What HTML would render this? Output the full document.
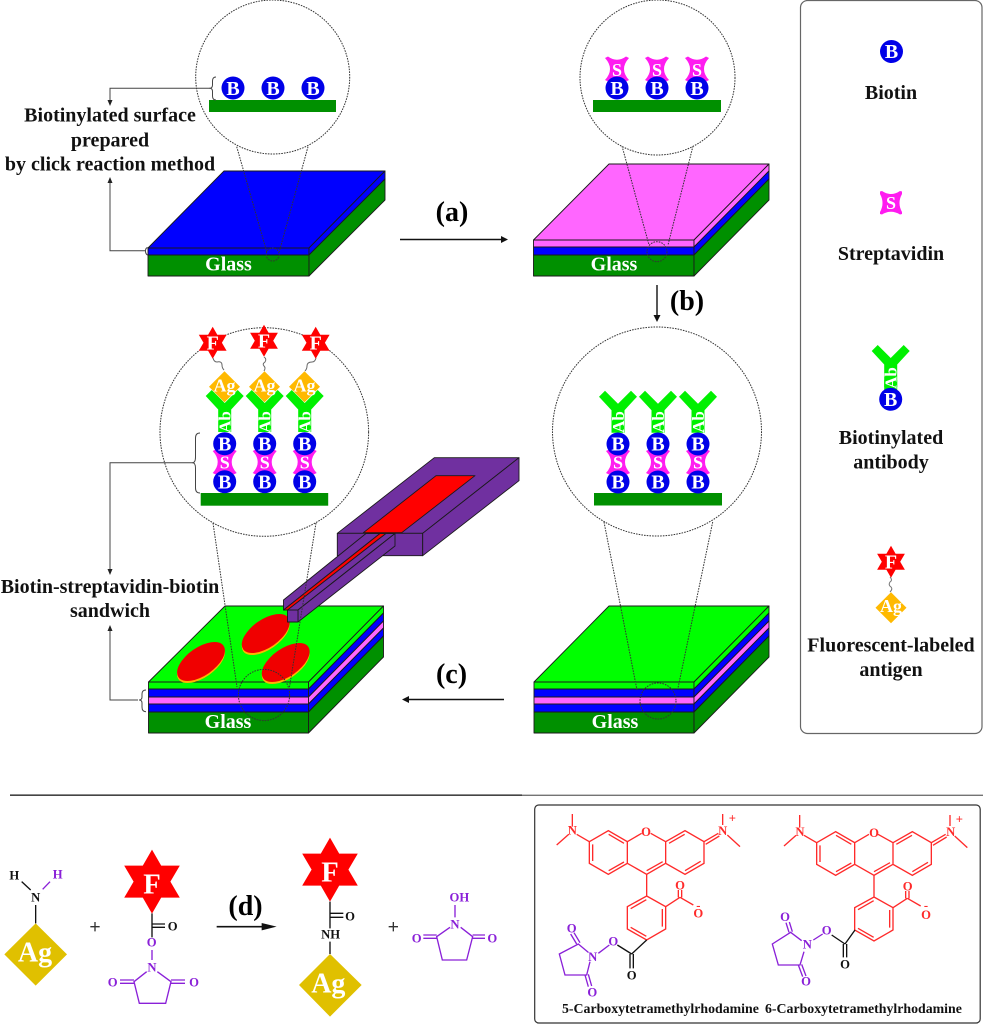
<!DOCTYPE html>
<html>
<head>
<meta charset="utf-8">
<style>
html,body{margin:0;padding:0;background:#fff;width:983px;height:1024px;overflow:hidden}
svg{display:block}
text{font-family:"Liberation Serif",serif;font-weight:bold}
.l{font-size:20px;fill:#111;text-anchor:middle}
.w{fill:#fff;text-anchor:middle}
.b{font-size:20px}
.s{font-size:18px}
.ab{font-size:17px}
.ag{font-size:18px}
.f{font-size:20px}
.p{font-size:28px;fill:#000;text-anchor:middle}
.d{fill:none;stroke:#333;stroke-width:1;stroke-dasharray:1.6 1.1}
.c{fill:#fff;stroke:#333;stroke-width:1;stroke-dasharray:1.6 1.1}
.e{stroke:#1a1a1a;stroke-width:.9;stroke-linejoin:round}
.cn{fill:none;stroke:#444;stroke-width:1}
.chem{font-size:38px;text-anchor:middle}
</style>
</head>
<body>
<svg width="983" height="1024" viewBox="0 0 983 1024" xmlns="http://www.w3.org/2000/svg">
<defs>
<circle id="bio" r="11.5" fill="#0000e8"/>
<path id="st" d="M-12,-11 L-9,-12.5 Q0,-6 9,-12.5 L12,-11 Q2,0 12,11 L9,12.5 Q0,6 -9,12.5 L-12,11 Q-2,0 -12,-11Z" fill="#ff1cf0"/>
<path id="star" d="M0,-16 L4.6,-8 L13.9,-8 L9.2,0 L13.9,8 L4.6,8 L0,16 L-4.6,8 L-13.9,8 L-9.2,0 L-13.9,-8 L-4.6,-8Z" fill="#f00"/>
<path id="dia" d="M0,-15.5 L15.5,0 L0,15.5 L-15.5,0Z" fill="#ffb900"/>
<path id="y" d="M-19,6 L-13,0 L0,13 L13,0 L19,6 L6.5,19.5 L6.5,42 L-6.5,42 L-6.5,19.5Z" fill="#00f000"/>
<path id="rl" d="M127,42V80M80,135L116,103M140,103L178,125M178,125L235,92L292,125L292,190L235,223L178,190ZM188,133V183M236,103L282,130M282,186L236,212M292,125L335,100M362,100L407,125M407,125L465,92L522,125L522,190L465,223L407,190ZM417,130L464,103M512,184L465,212M292,190L350,223L407,190M350,212L398,185M522,125L565,100M527,133L568,108M578,42V75M592,105L630,140M350,223V288M350,288L407,320V387L350,420L292,387V320ZM349,299L302,326M397,327V380M349,409L302,382M407,320L450,292M445,292V270M455,292V270M450,292L490,315"/>
</defs>

<!-- Legend -->
<rect x="800.5" y="0.5" width="181.5" height="733" rx="7" fill="#fff" stroke="#666" stroke-width="1.2"/>
<use href="#bio" x="891.5" y="51.5"/>
<text class="w b" x="891.5" y="58">B</text>
<text class="l" x="891" y="99">Biotin</text>
<path d="M880,191.5 L882,191 Q891,197 900,191 L902,191.5 L902,194 Q897,203 902,212 L902,214 L900,214.5 Q891,209 882,214.5 L880,214 L880,212 Q885,203 880,194Z" fill="#ff1cf0"/>
<text class="w s" x="891" y="209">S</text>
<text class="l" x="891" y="260">Streptavidin</text>
<use href="#y" x="890.7" y="345"/><rect x="884.2" y="380" width="13" height="15" fill="#00f000"/>
<text class="w ab" transform="translate(896.5,378) rotate(-90)" text-anchor="middle">Ab</text>
<use href="#bio" x="890.7" y="399.3"/>
<text class="w b" x="890.7" y="406">B</text>
<text class="l" x="891" y="444">Biotinylated</text>
<text class="l" x="891" y="468.3">antibody</text>
<use href="#star" x="891" y="561.7"/>
<text class="w f" x="891" y="568.5">F</text>
<path d="M890,577 q3,3 0,5 q-2,3 1,5 q2,2 -1,5" fill="none" stroke="#777" stroke-width="1"/>
<use href="#dia" x="891" y="607.7"/>
<text class="w ag" x="891" y="612">Ag</text>
<text class="l" x="891" y="651.7">Fluorescent-labeled</text>
<text class="l" x="891" y="676">antigen</text>

<!-- Panel 1 slab -->
<g class="e">
<polygon points="148,248 224,171 385,171 309,248" fill="#00f"/>
<polygon points="148,248 309,248 309,255 148,255" fill="#00f"/>
<polygon points="309,248 385,171 385,179 309,255" fill="#00f"/>
<polygon points="148,255 309,255 309,276 148,276" fill="#009000"/>
<polygon points="309,255 385,179 385,200 309,276" fill="#009000"/>
</g>
<text class="l" style="fill:#fff" x="228.5" y="270.5">Glass</text>
<path class="d" d="M236.7,146.7 L266.7,251.7 M308,146.7 L279.3,251.7"/>
<circle class="d" cx="272.7" cy="254.5" r="6.5"/>
<circle class="c" cx="272.7" cy="77" r="77"/>
<rect x="209" y="100" width="127" height="12" fill="#009000"/>
<use href="#bio" x="233" y="88"/><use href="#bio" x="273" y="88"/><use href="#bio" x="313" y="88"/>
<text class="w b" x="233" y="95">B</text><text class="w b" x="273" y="95">B</text><text class="w b" x="313" y="95">B</text>
<path class="cn" d="M216,77 Q212.5,77 212.5,81 L212.5,85 Q212.5,88.3 209.5,88.3 Q212.5,88.3 212.5,91.5 L212.5,96 Q212.5,100 216,100"/>
<path class="cn" d="M210,88.3 H110 V101"/><path d="M107.5,100 L112.5,100 L110,106Z" fill="#222"/>
<path class="cn" d="M146,250.7 H110 V182"/><path d="M107.5,183 L112.5,183 L110,177Z" fill="#222"/>
<path class="cn" d="M147.5,247.5 Q145.5,248 145.5,251 Q145.5,254 147.5,255"/>
<text class="l" x="110" y="121.7">Biotinylated surface</text>
<text class="l" x="110" y="146.5">prepared</text>
<text class="l" x="110" y="170.5">by click reaction method</text>

<!-- (a) -->
<text class="p" x="452" y="221">(a)</text>
<path d="M400,239.5 H502" stroke="#111" stroke-width="1.4"/><path d="M501,236 L508,239.5 L501,243Z" fill="#111"/>

<!-- Panel 2 -->
<g class="e">
<polygon points="533.5,240 609,164 769,164 694,240" fill="#ff66ff"/>
<polygon points="533.5,240 694,240 694,247 533.5,247" fill="#ff66ff"/>
<polygon points="694,240 769,164 769,171 694,247" fill="#ff66ff"/>
<polygon points="533.5,247 694,247 694,255 533.5,255" fill="#00f"/>
<polygon points="694,247 769,171 769,179 694,255" fill="#00f"/>
<polygon points="533.5,255 694,255 694,276 533.5,276" fill="#009000"/>
<polygon points="694,255 769,179 769,200 694,276" fill="#009000"/>
</g>
<text class="l" style="fill:#fff" x="614" y="270.7">Glass</text>
<path class="d" d="M622,146 L649,245 M693,146 L668,245"/>
<circle class="d" cx="657" cy="251.7" r="10"/>
<circle class="c" cx="657.5" cy="77.5" r="77.5"/>
<rect x="593" y="100" width="128" height="12" fill="#009000"/>
<use href="#st" x="617" y="69"/><use href="#st" x="657" y="69"/><use href="#st" x="697" y="69"/>
<use href="#bio" x="617" y="88"/><use href="#bio" x="657" y="88"/><use href="#bio" x="697" y="88"/>
<text class="w s" x="617" y="76">S</text><text class="w s" x="657" y="76">S</text><text class="w s" x="697" y="76">S</text>
<text class="w b" x="617" y="95">B</text><text class="w b" x="657" y="95">B</text><text class="w b" x="697" y="95">B</text>

<!-- (b) -->
<path d="M657,285 V316" stroke="#111" stroke-width="1.4"/><path d="M653.5,315 L660.5,315 L657,322Z" fill="#111"/>
<text class="p" x="687" y="310">(b)</text>

<!-- Panel 3 (right) -->
<g class="e">
<polygon points="534,682 609,606 769,606 694,682" fill="#0f0"/>
<polygon points="534,682 694,682 694,689 534,689" fill="#0f0"/>
<polygon points="694,682 769,606 769,613 694,689" fill="#0f0"/>
<polygon points="534,689 694,689 694,697 534,697" fill="#00f"/>
<polygon points="694,689 769,613 769,621 694,697" fill="#00f"/>
<polygon points="534,697 694,697 694,704 534,704" fill="#ff66ff"/>
<polygon points="694,697 769,621 769,628 694,704" fill="#ff66ff"/>
<polygon points="534,704 694,704 694,712 534,712" fill="#00f"/>
<polygon points="694,704 769,628 769,636 694,712" fill="#00f"/>
<polygon points="534,712 694,712 694,733 534,733" fill="#009000"/>
<polygon points="694,712 769,636 769,657 694,733" fill="#009000"/>
</g>
<text class="l" style="fill:#fff" x="615" y="728">Glass</text>
<path class="d" d="M604,522 L637,690 M712.7,522 L678,688"/>
<circle class="d" cx="658" cy="701" r="18"/>
<circle class="c" cx="657" cy="431.5" r="104.5"/>
<rect x="594" y="493" width="128" height="12.5" fill="#009000"/>
<use href="#y" x="618" y="390.7"/><use href="#y" x="658" y="390.7"/><use href="#y" x="698" y="390.7"/>
<text class="w ab" transform="translate(624,422) rotate(-90)" text-anchor="middle">Ab</text>
<text class="w ab" transform="translate(664,422) rotate(-90)" text-anchor="middle">Ab</text>
<text class="w ab" transform="translate(704,422) rotate(-90)" text-anchor="middle">Ab</text>
<use href="#st" x="618" y="462"/><use href="#st" x="658" y="462"/><use href="#st" x="698" y="462"/>
<use href="#bio" x="618" y="444"/><use href="#bio" x="658" y="444"/><use href="#bio" x="698" y="444"/>
<use href="#bio" x="618" y="482"/><use href="#bio" x="658" y="482"/><use href="#bio" x="698" y="482"/>
<text class="w s" x="618" y="468.5">S</text><text class="w s" x="658" y="468.5">S</text><text class="w s" x="698" y="468.5">S</text>
<text class="w b" x="618" y="450.5">B</text><text class="w b" x="658" y="450.5">B</text><text class="w b" x="698" y="450.5">B</text>
<text class="w b" x="618" y="488.5">B</text><text class="w b" x="658" y="488.5">B</text><text class="w b" x="698" y="488.5">B</text>

<!-- (c) -->
<text class="p" x="451.5" y="683">(c)</text>
<path d="M504,699.5 H408" stroke="#111" stroke-width="1.4"/><path d="M409,696 L402,699.5 L409,703Z" fill="#111"/>

<!-- Panel 4 (left) -->
<g class="e">
<polygon points="148.5,682 225,606 383.5,606 308.5,682" fill="#0f0"/>
<polygon points="148.5,682 308.5,682 308.5,689 148.5,689" fill="#0f0"/>
<polygon points="308.5,682 383.5,606 383.5,613 308.5,689" fill="#0f0"/>
<polygon points="148.5,689 308.5,689 308.5,697 148.5,697" fill="#00f"/>
<polygon points="308.5,689 383.5,613 383.5,621 308.5,697" fill="#00f"/>
<polygon points="148.5,697 308.5,697 308.5,704 148.5,704" fill="#ff66ff"/>
<polygon points="308.5,697 383.5,621 383.5,628 308.5,704" fill="#ff66ff"/>
<polygon points="148.5,704 308.5,704 308.5,712 148.5,712" fill="#00f"/>
<polygon points="308.5,704 383.5,628 383.5,636 308.5,712" fill="#00f"/>
<polygon points="148.5,712 308.5,712 308.5,733 148.5,733" fill="#009000"/>
<polygon points="308.5,712 383.5,636 383.5,657 308.5,733" fill="#009000"/>
</g>
<text class="l" style="fill:#fff" x="228" y="728">Glass</text>
<ellipse cx="201" cy="663.5" rx="27.5" ry="14" transform="rotate(-35 201 663.5)" fill="#ffb400"/>
<ellipse cx="201" cy="661.5" rx="27.5" ry="14" transform="rotate(-35 201 661.5)" fill="#f00000"/>
<ellipse cx="265.7" cy="635.5" rx="27.5" ry="14" transform="rotate(-35 265.7 635.5)" fill="#ffb400"/>
<ellipse cx="265.7" cy="633.5" rx="27.5" ry="14" transform="rotate(-35 265.7 633.5)" fill="#f00000"/>
<ellipse cx="285.7" cy="664.5" rx="27.5" ry="14" transform="rotate(-35 285.7 664.5)" fill="#ffb400"/>
<ellipse cx="285.7" cy="662.5" rx="27.5" ry="14" transform="rotate(-35 285.7 662.5)" fill="#f00000"/>

<!-- Probe -->
<g class="e">
<polygon points="337.3,533.3 434.3,457.7 519,457.7 422.7,533.3" fill="#7030a0"/>
<polygon points="363.3,532.7 436,475.7 475,475.7 401.7,532.7" fill="#f00"/>
<polygon points="337.3,533.3 422.7,533.3 422.7,555.7 337.3,555.7" fill="#7030a0"/>
<polygon points="422.7,533.3 519,457.7 519,480.7 422.7,555.7" fill="#7030a0"/>
<polygon points="283.5,600 366,533.5 380,533.5 283.5,610" fill="#7030a0"/>
<polygon points="283.5,610 380,533.5 386,533.5 288,610" fill="#f00"/>
<polygon points="287.5,610 386,533.5 395,533.5 298,610" fill="#7030a0"/>
<polygon points="298,610 395,533.5 395,546 298,622" fill="#7030a0"/>
<polygon points="287.5,610 298,610 298,622 287.5,622" fill="#7030a0"/>
</g>
<path class="d" d="M213,523 L237,687 M316,523 L289,690"/>
<circle class="d" cx="264" cy="695" r="25.6"/>
<circle class="c" cx="264.3" cy="432" r="104.3"/>
<rect x="200.7" y="493" width="127.5" height="12.7" fill="#009000"/>
<use href="#y" x="224.7" y="390"/><use href="#y" x="264.7" y="390"/><use href="#y" x="304.7" y="390"/>
<text class="w ab" transform="translate(230.7,422) rotate(-90)" text-anchor="middle">Ab</text>
<text class="w ab" transform="translate(270.7,422) rotate(-90)" text-anchor="middle">Ab</text>
<text class="w ab" transform="translate(310.7,422) rotate(-90)" text-anchor="middle">Ab</text>
<use href="#dia" x="224.5" y="386.7"/><use href="#dia" x="264.5" y="386.7"/><use href="#dia" x="304.5" y="386.7"/>
<text class="w ag" x="224.5" y="391.5">Ag</text><text class="w ag" x="264.5" y="391.5">Ag</text><text class="w ag" x="304.5" y="391.5">Ag</text>
<path d="M213,358 q1,4 4,4 q5,-1 5,3 q0,3 2,5" fill="none" stroke="#666" stroke-width="1"/>
<path d="M264,357 q3,2 1,5 q-3,2 -1,4 q2,2 0,5" fill="none" stroke="#666" stroke-width="1"/>
<path d="M316,358 q-1,4 -4,4 q-5,0 -5,4 q0,3 -2,5" fill="none" stroke="#666" stroke-width="1"/>
<use href="#star" x="212.7" y="342.7"/><use href="#star" x="264" y="340.7"/><use href="#star" x="315.7" y="342.7"/>
<text class="w f" x="212.7" y="349.5">F</text><text class="w f" x="264" y="347.5">F</text><text class="w f" x="315.7" y="349.5">F</text>
<use href="#st" x="224.7" y="462"/><use href="#st" x="264.7" y="462"/><use href="#st" x="304.7" y="462"/>
<use href="#bio" x="224.7" y="443.7"/><use href="#bio" x="264.7" y="443.7"/><use href="#bio" x="304.7" y="443.7"/>
<use href="#bio" x="224.7" y="481.7"/><use href="#bio" x="264.7" y="481.7"/><use href="#bio" x="304.7" y="481.7"/>
<text class="w s" x="224.7" y="468.5">S</text><text class="w s" x="264.7" y="468.5">S</text><text class="w s" x="304.7" y="468.5">S</text>
<text class="w b" x="224.7" y="450.3">B</text><text class="w b" x="264.7" y="450.3">B</text><text class="w b" x="304.7" y="450.3">B</text>
<text class="w b" x="224.7" y="488.3">B</text><text class="w b" x="264.7" y="488.3">B</text><text class="w b" x="304.7" y="488.3">B</text>
<path class="cn" d="M200,433 Q195.5,433 195.5,438 L195.5,457 Q195.5,462.7 192.5,462.7 Q195.5,462.7 195.5,468 L195.5,488 Q195.5,493 200,493"/>
<path class="cn" d="M193,462.7 H110 V570"/><path d="M107.5,569 L112.5,569 L110,575Z" fill="#222"/>
<path class="cn" d="M146,690 Q142,690 142,694 L142,697 Q142,700 139,700 Q142,700 142,703 L142,707 Q142,711.7 146,711.7"/>
<path class="cn" d="M138,700 H110 V630"/><path d="M107.5,631 L112.5,631 L110,625Z" fill="#222"/>
<text class="l" x="110" y="593">Biotin-streptavidin-biotin</text>
<text class="l" x="110" y="617">sandwich</text>

<!-- separator -->
<path d="M10,795.2 H522" stroke="#444" stroke-width="1.6"/>
<path d="M522,795.2 H983" stroke="#222" stroke-width="0.8"/>

<!-- Reaction (d) -->
<g transform="translate(0,830) scale(.33333)">
<g fill="none" stroke-width="4">
<path d="M65,155L92,180M107,225V280" stroke="#111"/>
<path d="M128,178L150,155" stroke="#8a20d8"/>
<path d="M271,290H299M285,276V304" stroke="#333"/>
<path d="M456,250V322M456,282H495M456,292H495" stroke="#111"/>
<path d="M456,360V390M440,425L402,455L418,520H497L513,455L472,425M402,450H360M402,460H360M513,450H555M513,460H555" stroke="#8a20d8"/>
<path d="M990,215V295M990,250H1030M990,262H1030M990,335V372" stroke="#111"/>
<path d="M1166,290H1194M1180,276V304" stroke="#333"/>
<path d="M1365,225V262M1350,292L1310,320L1327,390H1400L1418,320L1382,292M1310,315H1270M1310,325H1270M1418,315H1455M1418,325H1455" stroke="#8a20d8"/>
</g>
<path d="M650,290H795" stroke="#111" stroke-width="5" fill="none"/>
<path d="M785,279L830,290L785,301Z" fill="#111"/>
<path d="M107,280L201,373L107,467L13,373Z" fill="#e0c000"/>
<path d="M990,372L1085,465L990,560L897,465Z" fill="#e0c000"/>
<use href="#star" transform="translate(456,155) scale(6)"/>
<use href="#star" transform="translate(990,119) scale(6)"/>
<text class="chem" fill="#111" x="43" y="148">H</text>
<text class="chem" fill="#8a20d8" x="173" y="146">H</text>
<text class="chem" fill="#111" x="107" y="214">N</text>
<text class="chem" fill="#111" x="518" y="301">O</text>
<text class="chem" fill="#8a20d8" x="455" y="350">O</text>
<text class="chem" fill="#8a20d8" x="456" y="425">N</text>
<text class="chem" fill="#8a20d8" x="338" y="469">O</text>
<text class="chem" fill="#8a20d8" x="582" y="469">O</text>
<text class="chem" fill="#111" x="1050" y="272">O</text>
<text class="chem" fill="#111" x="992" y="325">NH</text>
<text class="chem" fill="#8a20d8" x="1378" y="215">OH</text>
<text class="chem" fill="#8a20d8" x="1365" y="295">N</text>
<text class="chem" fill="#8a20d8" x="1250" y="338">O</text>
<text class="chem" fill="#8a20d8" x="1477" y="338">O</text>
<text fill="#fff" text-anchor="middle" font-size="86" x="456" y="190">F</text>
<text fill="#fff" text-anchor="middle" font-size="86" x="990" y="155">F</text>
<text fill="#fff" text-anchor="middle" font-size="84" x="105" y="395">Ag</text>
<text fill="#fff" text-anchor="middle" font-size="84" x="985" y="487">Ag</text>
</g>
<text class="p" x="245.5" y="915">(d)</text>

<!-- Chem box -->
<rect x="534.7" y="805" width="445.5" height="218" rx="4" fill="none" stroke="#333" stroke-width="1.2"/>

<!-- 5-Carboxy -->
<g transform="translate(530,800) scale(.33333)">
<use href="#rl" fill="none" stroke="#ff2a2a" stroke-width="4"/>
<path d="M350,420L305,462M300,462V505M310,462V505M305,462L262,435" fill="none" stroke="#111" stroke-width="4"/>
<path d="M238,435L205,460M175,457L145,432L88,462L105,525H170L180,485M140,432L122,402M150,428L132,398M165,525L175,560M175,523L185,558" fill="none" stroke="#8a20d8" stroke-width="4"/>
<text class="chem" fill="#ff2a2a" x="127" y="103">N</text>
<text class="chem" fill="#ff2a2a" x="348" y="108">O</text>
<text class="chem" fill="#ff2a2a" x="578" y="105">N</text>
<text class="chem" fill="#ff2a2a" x="607" y="68">+</text>
<text class="chem" fill="#ff2a2a" x="450" y="268">O</text>
<text class="chem" fill="#ff2a2a" x="505" y="352">O</text>
<text class="chem" fill="#ff2a2a" x="505" y="328">-</text>
<text class="chem" fill="#111" x="305" y="538">O</text>
<text class="chem" fill="#8a20d8" x="250" y="436">O</text>
<text class="chem" fill="#8a20d8" x="188" y="483">N</text>
<text class="chem" fill="#8a20d8" x="125" y="398">O</text>
<text class="chem" fill="#8a20d8" x="187" y="590">O</text>
</g>
<text x="562" y="1013" font-size="13.85" fill="#111">5-Carboxytetramethylrhodamine</text>

<!-- 6-Carboxy -->
<g transform="translate(750,800) scale(.33333)">
<use href="#rl" transform="translate(22,3)" fill="none" stroke="#ff2a2a" stroke-width="4"/>
<path d="M315,390L285,432M280,432V472M290,432V472M285,432L245,405" fill="none" stroke="#111" stroke-width="4"/>
<path d="M218,402L190,420M155,422L122,397L67,432L85,495H150L162,455M117,397L108,368M127,395L118,366M145,495L158,530M155,493L168,528" fill="none" stroke="#8a20d8" stroke-width="4"/>
<text class="chem" fill="#ff2a2a" x="150" y="108">N</text>
<text class="chem" fill="#ff2a2a" x="372" y="111">O</text>
<text class="chem" fill="#ff2a2a" x="602" y="108">N</text>
<text class="chem" fill="#ff2a2a" x="628" y="71">+</text>
<text class="chem" fill="#ff2a2a" x="473" y="271">O</text>
<text class="chem" fill="#ff2a2a" x="528" y="357">O</text>
<text class="chem" fill="#ff2a2a" x="528" y="328">-</text>
<text class="chem" fill="#111" x="285" y="505">O</text>
<text class="chem" fill="#8a20d8" x="230" y="403">O</text>
<text class="chem" fill="#8a20d8" x="172" y="446">N</text>
<text class="chem" fill="#8a20d8" x="105" y="363">O</text>
<text class="chem" fill="#8a20d8" x="168" y="556">O</text>
</g>
<text x="765" y="1013" font-size="13.85" fill="#111">6-Carboxytetramethylrhodamine</text>
</svg>
</body>
</html>
